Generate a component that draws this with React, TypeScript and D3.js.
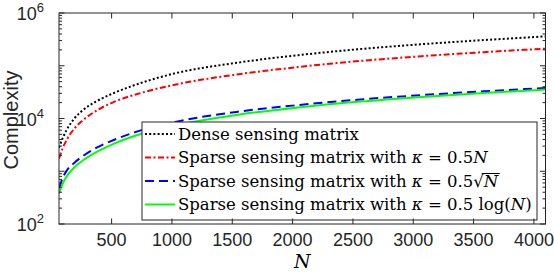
import React, { useRef, useState, useLayoutEffect } from 'react'
import * as d3 from 'd3'

// values
const Ns = [64, 96, 128, 192, 256, 384, 512, 768, 1024, 1536, 2048, 2560, 3072, 3584, 4096]
const dense = [2800, 4300, 6090, 10050, 14030, 21760, 29950, 49300, 71700, 113800, 158800, 207200, 256200, 306800, 360300]
const sparseLinear = [1740, 2780, 3940, 6480, 9010, 14500, 20280, 31650, 43720, 68300, 94600, 123200, 152000, 181100, 211000]
const sparseSqrt = [470, 760, 1030, 1456, 1900, 2870, 3870, 6180, 8600, 13330, 18000, 22900, 27800, 32800, 37800]
const sparseLog = [380, 590, 800, 1190, 1560, 2370, 3270, 5300, 7400, 11700, 16200, 20900, 25600, 30500, 35300]

const xTicks = [500, 1000, 1500, 2000, 2500, 3000, 3500, 4000]
const yLabelExps = [2, 4, 6]

const width = 554
const height = 272
const left = 59
const right = 545.5
const top = 13
const bottom = 224
const axisColor = '#262626'

const series = [
  { values: dense, color: '#000000', dash: '2,2.2' },
  { values: sparseLinear, color: '#ff0000', dash: '6,2.5,2,2.5' },
  { values: sparseSqrt, color: '#0000ff', dash: '9,5' },
  { values: sparseLog, color: '#00ff00', dash: null },
]

const App = () => {
  const sqrtRef = useRef<SVGTSpanElement>(null)
  const [bar, setBar] = useState<{ x1: number, x2: number, y: number } | null>(null)

  useLayoutEffect(() => {
    if (!sqrtRef.current) return
    const b = sqrtRef.current.getBBox()
    setBar({ x1: b.x - 1, x2: b.x + b.width + 1, y: b.y + 2 })
  }, [])

  const x = d3.scaleLinear().domain([64, 4096]).range([left, right])
  const y = d3.scaleLog().domain([100, 1e6]).range([bottom, top])

  const line = d3.line<number>()
    .x((_, i) => x(Ns[i]))
    .y(d => y(d))
    .curve(d3.curveMonotoneX)

  const majorY: number[] = []
  const minorY: number[] = []
  for (let k = 2; k <= 6; k++) {
    majorY.push(Math.pow(10, k))
    if (k < 6) for (let m = 2; m <= 9; m++) minorY.push(m * Math.pow(10, k))
  }

  const legX = 142
  const legY = 122
  const legW = 395
  const legH = 98
  const rowY = [134, 157.5, 181, 204.5]
  const serif = '"DejaVu Serif", serif'

  return (
    <svg width={width} height={height} style={{ position: 'absolute', left: 0, top: 0, background: '#fff' }}>
      <defs>
        <clipPath id="plot">
          <rect x={left} y={top} width={right - left} height={bottom - top} />
        </clipPath>
      </defs>
      <rect x={0} y={0} width={width} height={height} fill="#fff" />

      <g clipPath="url(#plot)">
        {series.map((s, i) => (
          <path key={i} d={line(s.values) || ''} fill="none" stroke={s.color}
            strokeWidth={2} strokeDasharray={s.dash || undefined} />
        ))}
      </g>

      {/* legend */}
      <rect x={legX} y={legY} width={legW} height={legH} fill="#fff" stroke={axisColor} strokeWidth={1} />
      {series.map((s, i) => (
        <line key={i} x1={145} x2={175} y1={rowY[i]} y2={rowY[i]} stroke={s.color}
          strokeWidth={2} strokeDasharray={s.dash || undefined} />
      ))}
      <g fontFamily={serif} fontSize={16.5} fill="#000">
        <text x={178} y={rowY[0] + 5.5}>Dense sensing matrix</text>
        <text x={178} y={rowY[1] + 5.5}>
          Sparse sensing matrix with <tspan fontStyle="italic">κ</tspan> = 0.5<tspan fontStyle="italic">N</tspan>
        </text>
        <text x={178} y={rowY[2] + 5.5}>
          Sparse sensing matrix with <tspan fontStyle="italic">κ</tspan> = 0.5√<tspan ref={sqrtRef} fontStyle="italic">N</tspan>
        </text>
        <text x={178} y={rowY[3] + 5.5}>
          Sparse sensing matrix with <tspan fontStyle="italic">κ</tspan> = 0.5 log(<tspan fontStyle="italic">N</tspan>)
        </text>
      </g>
      {bar && <line x1={bar.x1} x2={bar.x2} y1={bar.y} y2={bar.y} stroke="#000" strokeWidth={1} />}

      {/* axes box and ticks */}
      <g stroke={axisColor} strokeWidth={1}>
        <rect x={left} y={top} width={right - left} height={bottom - top} fill="none" />
        {xTicks.map(t => (
          <g key={t}>
            <line x1={x(t)} x2={x(t)} y1={bottom} y2={bottom - 5.5} />
            <line x1={x(t)} x2={x(t)} y1={top} y2={top + 5.5} />
          </g>
        ))}
        {majorY.map(t => (
          <g key={t}>
            <line x1={left} x2={left + 5.5} y1={y(t)} y2={y(t)} />
            <line x1={right} x2={right - 5.5} y1={y(t)} y2={y(t)} />
          </g>
        ))}
        {minorY.map(t => (
          <g key={t}>
            <line x1={left} x2={left + 3} y1={y(t)} y2={y(t)} />
            <line x1={right} x2={right - 3} y1={y(t)} y2={y(t)} />
          </g>
        ))}
      </g>

      <g fontFamily='"Liberation Sans", Arial, sans-serif' fill={axisColor}>
        {xTicks.map(t => (
          <text key={t} x={x(t)} y={246} fontSize={18} textAnchor="middle">{t}</text>
        ))}
        {yLabelExps.map(e => (
          <text key={e} x={44} y={y(Math.pow(10, e)) + 7} fontSize={18} textAnchor="end">
            10<tspan dy={-8} fontSize={13}>{e}</tspan>
          </text>
        ))}
        <text transform="translate(18,120) rotate(-90)" textAnchor="middle" fontSize={20}>Complexity</text>
      </g>
      <text x={(left + right) / 2} y={268} textAnchor="middle" fontFamily={serif}
        fontStyle="italic" fontSize={19} fill="#000">N</text>
    </svg>
  )
}

export default App
